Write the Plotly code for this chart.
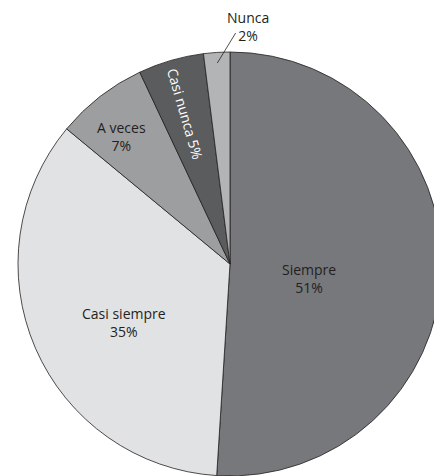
import math
import plotly.graph_objects as go

labels = ["Siempre", "Casi siempre", "A veces", "Casi nunca", "Nunca"]
values = [51, 35, 7, 5, 2]
colors = ["#77787b", "#e1e2e4", "#9d9ea0", "#5b5c5e", "#b3b4b6"]

# label placement (style only): distance from centre as share of radius, angle nudge in degrees
label_radius = [0.38, 0.57, 0.79, 0.74, 1.125]
label_shift = [8.8, -5.5, -2.8, -0.5, 8.0]
label_color = ["#231f20", "#231f20", "#231f20", "#ffffff", "#231f20"]

W, H = 442, 476
# page body adds an 8px offset, so the pie domain is set 8px up/left
dom_x = [10 / W, 434 / W]
dom_y = [8 / H, 1 - 44 / H]
R = min((dom_x[1] - dom_x[0]) * W, (dom_y[1] - dom_y[0]) * H) / 2
cx = (dom_x[0] + dom_x[1]) / 2
cy = (dom_y[0] + dom_y[1]) / 2

fig = go.Figure()
fig.add_trace(go.Pie(
    labels=labels,
    values=values,
    sort=False,
    direction="clockwise",
    rotation=0,
    marker=dict(colors=colors, line=dict(color="#231f20", width=0.8)),
    textinfo="none",
    hoverinfo="skip",
    domain=dict(x=dom_x, y=dom_y),
))


def to_paper(theta_deg, frac):
    t = math.radians(theta_deg)
    return cx + R * frac * math.sin(t) / W, cy + R * frac * math.cos(t) / H


total = sum(values)
start = 0.0
for i, (lab, v) in enumerate(zip(labels, values)):
    pct = round(100 * v / total)
    mid = 360 * (start + v / 2) / total
    start += v
    x, y = to_paper(mid + label_shift[i], label_radius[i])
    if lab == "Casi nunca":
        # thin slice: text runs along the radius
        txt = f"{lab} {pct}%"
        angle = mid - 270
    else:
        txt = f"{lab}<br>{pct}%"
        angle = 0
    fig.add_annotation(
        x=x, y=y, xref="paper", yref="paper",
        xanchor="center", yanchor="middle",
        text=txt, textangle=angle, showarrow=False,
        font=dict(family="Open Sans", size=14, color=label_color[i]),
    )
    if lab == "Nunca":
        x0, y0 = to_paper(mid, 0.95)
        x1, y1 = to_paper(mid + 5, 1.09)
        fig.add_shape(type="line", xref="paper", yref="paper",
                      x0=x0, y0=y0, x1=x1, y1=y1,
                      line=dict(color="#231f20", width=0.8))

fig.update_layout(
    width=W,
    height=H,
    margin=dict(l=0, r=0, t=0, b=0),
    showlegend=False,
    paper_bgcolor="white",
    font_family="Open Sans",
)
fig.write_html("out.html")
